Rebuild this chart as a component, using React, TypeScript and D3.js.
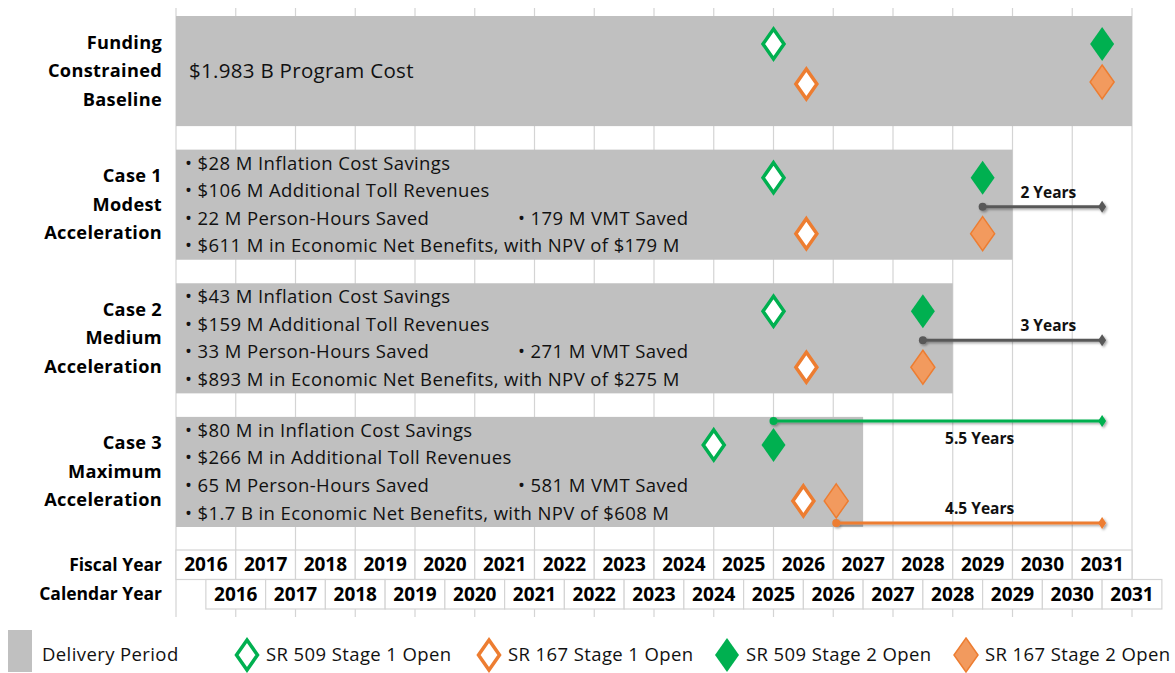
import React from 'react'
import * as d3 from 'd3'

// fiscal / calendar year ticks
const fiscalYears = ['2016', '2017', '2018', '2019', '2020', '2021', '2022', '2023', '2024', '2025', '2026', '2027', '2028', '2029', '2030', '2031']
const calendarYears = ['2016', '2017', '2018', '2019', '2020', '2021', '2022', '2023', '2024', '2025', '2026', '2027', '2028', '2029', '2030', '2031']

// scenarios (rows)
const scenarios = ['Baseline', 'Case 1', 'Case 2', 'Case 3']
const rowLabels = [
  ['Funding', 'Constrained', 'Baseline'],
  ['Case 1', 'Modest', 'Acceleration'],
  ['Case 2', 'Medium', 'Acceleration'],
  ['Case 3', 'Maximum', 'Acceleration'],
]

// delivery period (calendar-year time; FY2016 starts mid 2015)
const deliveryStart = [2015.5, 2015.5, 2015.5, 2015.5]
const deliveryEnd = [2031.5, 2029.5, 2028.5, 2027.0]

// opening dates
const sr509Stage1 = [2025.5, 2025.5, 2025.5, 2024.5]
const sr167Stage1 = [2026.05, 2026.05, 2026.05, 2026.0]
const sr509Stage2 = [2031.0, 2029.0, 2028.0, 2025.5]
const sr167Stage2 = [2031.0, 2029.0, 2028.0, 2026.55]

// benefits text
const programCost = '$1.983 B Program Cost'
const inflationSavings = ['$28 M Inflation Cost Savings', '$43 M Inflation Cost Savings', '$80 M in Inflation Cost Savings']
const tollRevenues = ['$106 M Additional Toll Revenues', '$159 M Additional Toll Revenues', '$266 M in Additional Toll Revenues']
const personHours = ['22 M Person-Hours Saved', '33 M Person-Hours Saved', '65 M Person-Hours Saved']
const vmtSaved = ['179 M VMT Saved', '271 M VMT Saved', '581 M VMT Saved']
const netBenefits = [
  '$611 M in Economic Net Benefits, with NPV of $179 M',
  '$893 M in Economic Net Benefits, with NPV of $275 M',
  '$1.7 B in Economic Net Benefits, with NPV of $608 M',
]

// acceleration spans
const spanRows = [1, 2, 3, 3]
const spanFrom = [2029, 2028, 2025.5, 2026.55]
const spanTo = [2031, 2031, 2031, 2031]
const spanLabels = ['2 Years', '3 Years', '5.5 Years', '4.5 Years']
const spanKinds = ['gray', 'gray', 'sr509', 'sr167']

const legendLabels = ['SR 509 Stage 1 Open', 'SR 167 Stage 1 Open', 'SR 509 Stage 2 Open', 'SR 167 Stage 2 Open']

const GREEN = '#00b050'
const ORANGE = '#ed7d31'
const ORANGE_FILL = '#f29a5e'
const BAR = '#c0c0c0'
const GRID = '#d4d4d4'
const FONT = '"Open Sans", "Liberation Sans", sans-serif'

const W = 1175
const H = 673

function diamond(w: number, h: number) {
  return `M0,${-h}L${w},0L0,${h}L${-w},0Z`
}

export default function App() {
  const x = d3.scaleLinear().domain([2015.5, 2031.5]).range([176, 1132])
  const y = d3.scaleBand<string>().domain(scenarios).range([16, 527]).paddingInner(0.176)
  const bw = y.bandwidth()

  const tableTop = 550
  const rowH = 29.5
  const gridTop = 8
  const gridBottom = 617

  const spanColor = (k: string) => (k === 'sr509' ? GREEN : k === 'sr167' ? ORANGE : '#595959')
  const spanY = (i: number) => {
    const top = y(scenarios[spanRows[i]])!
    if (spanKinds[i] === 'sr509') return top + 4
    if (spanKinds[i] === 'sr167') return top + bw - 4
    return top + 57
  }
  const spanLabelPos = (i: number) => {
    const ly = spanY(i)
    if (spanKinds[i] === 'sr509') return { lx: x(2028.95), ly: ly + 23 }
    if (spanKinds[i] === 'sr167') return { lx: x(2028.95), ly: ly - 9 }
    return { lx: x(2030.1), ly: ly - 9 }
  }

  const hollow = diamond(10.5, 15)
  const solid = diamond(12, 17)

  return (
    <div style={{ position: 'absolute', left: 0, top: 0 }}>
      <svg width={W} height={H} style={{ display: 'block', background: '#fff' }} fontFamily={FONT}>
        <defs>
          <filter id="shadow" x="-10%" y="-200%" width="120%" height="500%">
            <feDropShadow dx="1.5" dy="1.5" stdDeviation="1.2" floodColor="#000" floodOpacity="0.35" />
          </filter>
        </defs>

        {/* fiscal year grid */}
        {d3.range(fiscalYears.length + 1).map(i => (
          <line key={'g' + i} x1={x(2015.5 + i)} x2={x(2015.5 + i)} y1={gridTop} y2={gridBottom} stroke={GRID} strokeWidth={1.2} />
        ))}

        {/* delivery period bars */}
        {scenarios.map((s, i) => (
          <rect key={'bar' + s} x={x(deliveryStart[i])} y={y(s)} width={x(deliveryEnd[i]) - x(deliveryStart[i])} height={bw} fill={BAR} />
        ))}

        {/* row labels */}
        {scenarios.map((s, i) => (
          <text key={'lab' + s} textAnchor="end" fontWeight="bold" fontSize={18.2} letterSpacing={0.3} fill="#000">
            {rowLabels[i].map((t, j) => (
              <tspan key={j} x={162} y={y(s)! + bw / 2 + (j - 1) * 28.5 + 6}>{t}</tspan>
            ))}
          </text>
        ))}

        {/* baseline text */}
        <text x={189} y={y(scenarios[0])! + bw / 2 + 7} fontSize={20.5} letterSpacing={0.3} fill="#111">{programCost}</text>

        {/* case benefit bullets */}
        {scenarios.slice(1).map((s, k) => {
          const top = y(s)!
          const lines = [inflationSavings[k], tollRevenues[k], personHours[k], netBenefits[k]]
          return (
            <g key={'notes' + s} fontSize={18.5} letterSpacing={0.4} fill="#111">
              {lines.map((t, j) => (
                <text key={j} x={185} y={top + 20 + j * 27.6}>{'• ' + t}</text>
              ))}
              <text x={518} y={top + 20 + 2 * 27.6}>{'• ' + vmtSaved[k]}</text>
            </g>
          )
        })}

        {/* acceleration spans */}
        {spanRows.map((r, i) => {
          const c = spanColor(spanKinds[i])
          const sy = spanY(i)
          const { lx, ly } = spanLabelPos(i)
          return (
            <g key={'span' + i}>
              <g filter="url(#shadow)">
                <line x1={x(spanFrom[i])} x2={x(spanTo[i])} y1={sy} y2={sy} stroke={c} strokeWidth={3} />
                <circle cx={x(spanFrom[i])} cy={sy} r={4} fill={c} />
                <path d={diamond(4, 6)} transform={`translate(${x(spanTo[i])},${sy})`} fill={c} />
              </g>
              <text x={lx} y={ly} textAnchor="middle" fontWeight="bold" fontSize={15.5} fill="#111">{spanLabels[i]}</text>
            </g>
          )
        })}

        {/* milestone markers */}
        {scenarios.map((s, i) => {
          const top = y(s)!
          const gy = top + 28
          const oy = i === 0 ? top + 68 : top + 84
          return (
            <g key={'m' + s}>
              <path d={hollow} transform={`translate(${x(sr509Stage1[i])},${gy})`} fill="#fff" stroke={GREEN} strokeWidth={3.5} />
              <path d={hollow} transform={`translate(${x(sr167Stage1[i])},${oy})`} fill="#fff" stroke={ORANGE} strokeWidth={3.5} />
              <path d={solid} transform={`translate(${x(sr509Stage2[i])},${gy})`} fill={GREEN} />
              <path d={solid} transform={`translate(${x(sr167Stage2[i])},${i === 0 ? top + 66 : oy})`} fill={ORANGE_FILL} stroke={ORANGE} strokeWidth={1.5} />
            </g>
          )
        })}

        {/* fiscal year row */}
        <text x={162} y={tableTop + rowH / 2 + 6} textAnchor="end" fontWeight="bold" fontSize={17.5} fill="#000">Fiscal Year</text>
        {fiscalYears.map((t, i) => (
          <g key={'fy' + t}>
            <rect x={x(2015.5 + i)} y={tableTop} width={x(2016.5) - x(2015.5)} height={rowH} fill="#fff" stroke={GRID} strokeWidth={1.2} />
            <text x={x(2016 + i)} y={tableTop + rowH / 2 + 6.5} textAnchor="middle" fontWeight="bold" fontSize={19} fill="#000">{t}</text>
          </g>
        ))}

        {/* calendar year row */}
        <text x={162} y={tableTop + rowH * 1.5 + 6} textAnchor="end" fontWeight="bold" fontSize={17.5} fill="#000">Calendar Year</text>
        {calendarYears.map((t, i) => (
          <g key={'cy' + t}>
            <rect x={x(2016 + i)} y={tableTop + rowH} width={x(2017) - x(2016)} height={rowH} fill="#fff" stroke={GRID} strokeWidth={1.2} />
            <text x={x(2016.5 + i)} y={tableTop + rowH * 1.5 + 6.5} textAnchor="middle" fontWeight="bold" fontSize={19} fill="#000">{t}</text>
          </g>
        ))}

        {/* legend */}
        <g fontSize={18.5} letterSpacing={0.4} fill="#111">
          <rect x={8} y={630} width={24} height={42} fill={BAR} />
          <text x={42} y={661}>Delivery Period</text>
          {legendLabels.map((t, i) => {
            const lx = [247, 489, 727, 966][i]
            const filled = i >= 2
            const c = i % 2 === 0 ? GREEN : ORANGE
            return (
              <g key={'leg' + i}>
                <path
                  d={filled ? solid : hollow}
                  transform={`translate(${lx},655)`}
                  fill={filled ? (i === 2 ? GREEN : ORANGE_FILL) : '#fff'}
                  stroke={filled ? (i === 2 ? 'none' : ORANGE) : c}
                  strokeWidth={filled ? 1.5 : 3.5}
                />
                <text x={lx + 19} y={661}>{t}</text>
              </g>
            )
          })}
        </g>
      </svg>
    </div>
  )
}
